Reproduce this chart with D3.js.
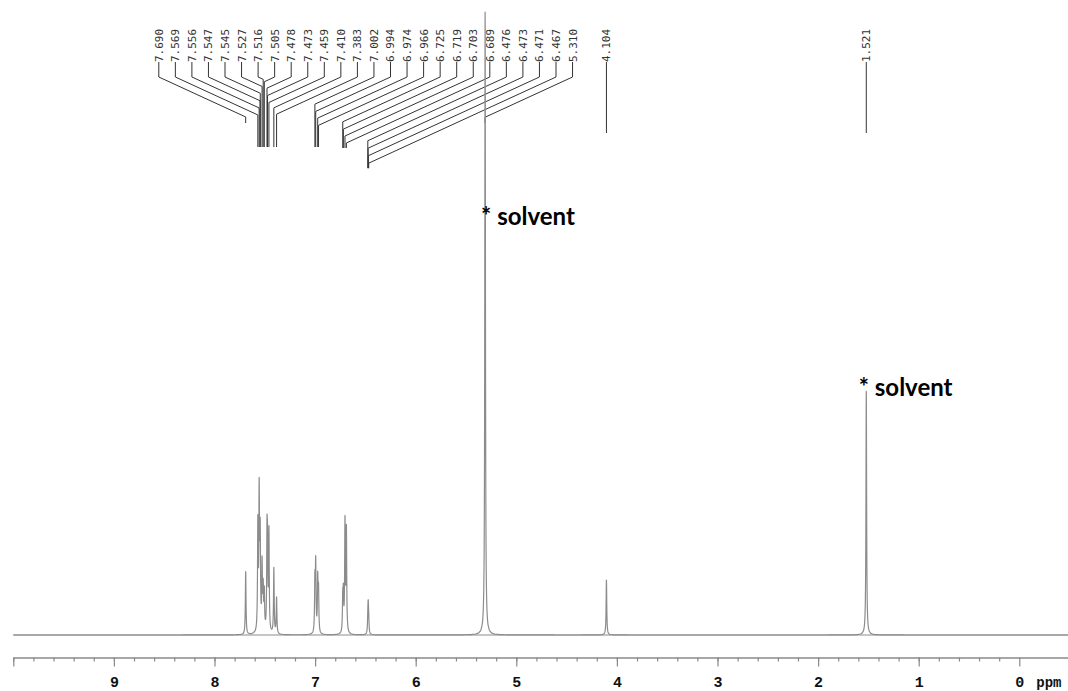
<!DOCTYPE html>
<html><head><meta charset="utf-8">
<script src="https://cdn.jsdelivr.net/npm/d3@7/dist/d3.min.js"></script>
<style>body{margin:0;background:#fff}</style>
</head><body>
<svg id="chart" width="1068" height="691"></svg>
<script>
// ---- data ----
const peakPpm = [7.690,7.569,7.556,7.547,7.545,7.527,7.516,7.505,7.478,7.473,7.459,7.410,7.383,
                 7.002,6.994,6.974,6.966,6.725,6.719,6.703,6.689,6.476,6.473,6.471,6.467,5.310,4.104,1.521];
const peakIntensity = [10.1,17.0,21.5,8.5,7.5,10.5,6.5,6.0,14.0,11.0,16.0,10.5,5.8,
                       8.2,10.8,8.5,6.6,5.2,5.6,17.6,16.4,1.6,2.3,2.3,1.6,100,8.8,39.1];
const fanLabels = ["7.690","7.569","7.556","7.547","7.545","7.527","7.516","7.505","7.478","7.473","7.459","7.410","7.383",
                   "7.002","6.994","6.974","6.966","6.725","6.719","6.703","6.689","6.476","6.473","6.471","6.467","5.310"];
const singleLabels = ["4.104","1.521"];
const majorTicks = [9,8,7,6,5,4,3,2,1,0];
const minorTicks = d3.range(50).map(i => +(10 - i*0.2).toFixed(1)).filter(v => v >= -0.4);
const solventNotes = ["5.310","1.521"];
const noteText = "* solvent";
const axisUnit = "ppm";

// ---- layout ----
const svg = d3.select("#chart");
const x = d3.scaleLinear().domain([10, -0.5]).range([13.3, 1069.6]);
const y = d3.scaleLinear().domain([0, 100]).range([635, 12]);
const axisY = 657.5;

// axis
const gAxis = svg.append("g").attr("transform", `translate(0,${axisY})`);
gAxis.call(d3.axisBottom(x).tickValues(minorTicks).tickSize(4).tickSizeOuter(0).tickFormat(""));
const gMaj = svg.append("g").attr("transform", `translate(0,${axisY})`);
gMaj.call(d3.axisBottom(x).tickValues([10, ...majorTicks]).tickSize(9).tickSizeOuter(0).tickFormat(d => d === 10 ? "" : d));
svg.selectAll(".domain").attr("stroke", "#8a8a8a").attr("stroke-width", 1.2);
svg.selectAll(".tick line").attr("stroke", "#8a8a8a").attr("stroke-width", 1.2);
gMaj.selectAll(".tick text").attr("y", 29.5).attr("dy", 0)
  .attr("font-family", "Liberation Mono, monospace").attr("font-weight", "bold")
  .attr("font-size", 15).attr("fill", "#111");
svg.append("text").attr("x", x(0) + 17).attr("y", axisY + 29.5)
  .attr("font-family", "Liberation Mono, monospace").attr("font-weight", "bold")
  .attr("font-size", 14).attr("fill", "#111").text(axisUnit);

// peak label leaders
const labelFont = "DejaVu Sans Mono, monospace";
const textBottom = 62, stubBottom = 77, slope = 0.46;
const fanX0 = 158.8, fanStep = 16.55;
const fan = fanLabels.map((t, i) => {
  const lx = fanX0 + i * fanStep, px = x(+t);
  return {t, lx, px, dEnd: stubBottom + slope * Math.abs(lx - px)};
});
let cl = 0;
fan.forEach((d, i) => { if (i > 0 && (+fan[i-1].t - +d.t) > 0.05) cl++; d.cl = cl; });
const clusters = d3.group(fan, d => d.cl);
fan.forEach(d => {
  const members = clusters.get(d.cl);
  const m = d3.max(members, e => e.dEnd) + 5;
  d.bottom = Math.max(m, members.length > 1 ? 147 : 123);
});
const gL = svg.append("g");
gL.selectAll("path.lead").data(fan).join("path")
  .attr("fill", "none").attr("stroke", "#333").attr("stroke-width", 1)
  .attr("d", d => d3.line()([[d.lx, textBottom], [d.lx, stubBottom], [d.px, d.dEnd], [d.px, d.bottom]]));
gL.selectAll("text.fl").data(fan).join("text")
  .attr("transform", d => `translate(${d.lx},${textBottom}) rotate(-90)`)
  .attr("dy", "0.36em").attr("font-family", labelFont).attr("font-size", 11).attr("fill", "#333")
  .text(d => d.t);
const singles = singleLabels.map(t => ({t, px: x(+t)}));
gL.selectAll("line.sl").data(singles).join("line")
  .attr("x1", d => d.px).attr("x2", d => d.px).attr("y1", textBottom).attr("y2", 133)
  .attr("stroke", "#333").attr("stroke-width", 1);
gL.selectAll("text.sl").data(singles).join("text")
  .attr("transform", d => `translate(${d.px},${textBottom}) rotate(-90)`)
  .attr("dy", "0.36em").attr("font-family", labelFont).attr("font-size", 11).attr("fill", "#333")
  .text(d => d.t);

// zero line of the spectrum
svg.append("line").attr("x1", x(10)).attr("x2", x(-0.5)).attr("y1", y(0)).attr("y2", y(0))
  .attr("stroke", "#8c8c8c").attr("stroke-width", 1.2);

// spectrum: sum of Lorentzian lines at the listed peaks
const gamma = 0.0038;
const coarse = d3.range(0, 1051).map(i => 10 - i * 0.01);
const fine = peakPpm.flatMap(c => d3.range(-60, 61).map(k => c + k * 0.0005));
const grid = Array.from(new Set(coarse.concat(fine).map(v => +v.toFixed(5)))).sort((a, b) => b - a);
const spec = grid.map(p => {
  let s = 0;
  for (let i = 0; i < peakPpm.length; i++) s += peakIntensity[i] / (1 + ((p - peakPpm[i]) / gamma) ** 2);
  return [p, s];
});
svg.append("path").datum(spec)
  .attr("fill", "none").attr("stroke", "#8c8c8c").attr("stroke-width", 1.2)
  .attr("stroke-linejoin", "round")
  .attr("d", d3.line().x(d => x(d[0])).y(d => y(d[1])));

// solvent notes
const noteOffsets = [{dx: -4, dy: 65.8}, {dx: -7.5, dy: 38.4}];
svg.selectAll("text.note").data(solventNotes).join("text")
  .attr("x", (d, i) => x(+d) + noteOffsets[i].dx)
  .attr("y", (d, i) => y(noteOffsets[i].dy))
  .attr("font-family", "Lato, sans-serif").attr("font-weight", "bold").attr("font-size", 24)
  .attr("fill", "#000").text(noteText);
</script>
</body></html>
